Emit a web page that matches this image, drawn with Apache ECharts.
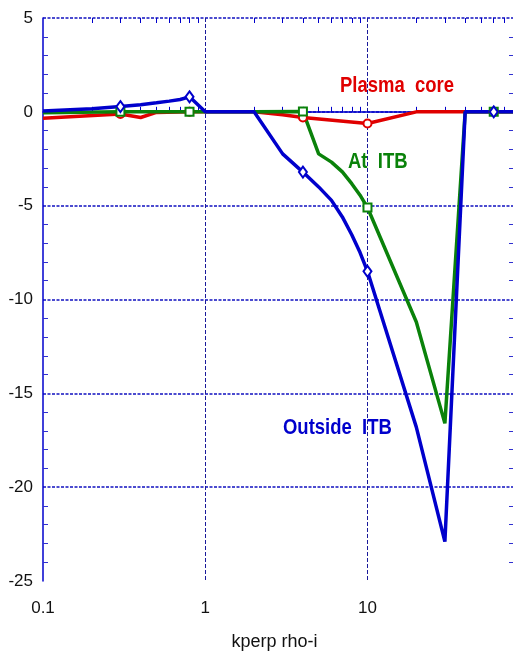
<!DOCTYPE html>
<html>
<head>
<meta charset="utf-8">
<script src="https://cdn.jsdelivr.net/npm/echarts@6/dist/echarts.min.js"></script>
<style>
  html, body { margin: 0; padding: 0; background: #fff; }
  #chart { width: 513px; height: 654px; }
</style>
</head>
<body>
<div id="chart"></div>
<script>
// kperp rho-i values and the three curves
const kCore = [0.1, 0.3, 0.4, 0.5, 0.8, 1, 2, 3, 4, 10, 20, 30, 40, 60, 80];
const plasmaCore = [-0.34, -0.12, -0.3, -0.03, 0, 0, 0, -0.15, -0.3, -0.62, 0, 0, 0, 0, 0];

const kItb = [0.1, 0.3, 0.8, 1, 2, 4, 5, 6, 7, 8, 9, 10, 20, 30, 40, 60, 80];
const atITB = [-0.05, 0, 0, 0, 0, 0.02, -2.24, -2.68, -3.2, -3.83, -4.44, -5.1, -11.2, -16.6, 0, 0, 0];

const kOut = [0.1, 0.2, 0.3, 0.4, 0.5, 0.6, 0.7, 0.8, 1, 2, 3, 4, 5, 6, 7, 8, 9, 10, 20, 30, 40, 60, 80];
const outsideITB = [0.05, 0.17, 0.28, 0.38, 0.48, 0.57, 0.66, 0.8, 0, 0, -2.24, -3.21, -4.0, -4.72, -5.6, -6.55, -7.5, -8.5, -16.8, -22.9, 0, 0, 0];

// points that carry a marker
const markerK = [0.3, 0.8, 4, 10, 60];
// minor ticks of the log axis
const minorK = [0.2, 0.3, 0.4, 0.5, 0.6, 0.7, 0.8, 0.9, 2, 3, 4, 5, 6, 7, 8, 9, 20, 30, 40, 50, 60, 70];

const fontMain = '"Liberation Sans", Arial, sans-serif';
const blueAxis = '#0000cc';

function pairs(xs, ys) {
    return xs.map((x, i) => [x, ys[i]]);
}

function curve(name, xs, ys, color, sym) {
    return {
        name: name,
        type: 'line',
        data: pairs(xs, ys),
        showAllSymbol: true,
        symbol: function (value) {
            return markerK.indexOf(value[0]) >= 0 ? sym : 'none';
        },
        symbolSize: sym === 'emptyDiamond' ? [8, 11] : 8,
        itemStyle: { color: color, borderWidth: 1 },
        lineStyle: { color: color, width: 3.5 },
        emphasis: { disabled: true },
        animation: false
    };
}

// narrow bold label drawn inside the plot
function label(text, x, y, color) {
    return {
        type: 'text', x: x, y: y, scaleX: 0.84, scaleY: 1,
        style: { text: text, fill: color, fontSize: 22, fontWeight: 'bold', fontFamily: fontMain, verticalAlign: 'middle' }
    };
}

const myChart = echarts.init(document.getElementById('chart'));

const option = {
    animation: false,
    grid: { left: 43, top: 18, width: 471, height: 563, outerBoundsMode: 'none', containLabel: false },
    xAxis: [
        {
            type: 'log',
            logBase: 10,
            min: 0.1,
            max: 80,
            position: 'bottom',
            axisLine: { show: true, lineStyle: { color: blueAxis, width: 1.5 } },
            axisTick: { show: false },
            axisLabel: {
                color: '#111',
                fontSize: 17,
                fontFamily: fontMain,
                margin: 19,
                formatter: function (v) {
                    const p = Math.log10(v);
                    if (Math.abs(p - Math.round(p)) > 1e-6) return '';
                    return String(+v.toPrecision(3));
                }
            },
            splitLine: {
                show: true,
                showMinLine: false,
                showMaxLine: false,
                lineStyle: { color: '#1a1a9a', width: 1, type: [4, 2] }
            },
            name: 'kperp rho-i',
            nameLocation: 'middle',
            nameGap: 52,
            nameTextStyle: { color: '#111', fontSize: 18, fontFamily: fontMain, padding: [0, 8, 0, 0] }
        },
        {
            type: 'log',
            logBase: 10,
            min: 0.1,
            max: 80,
            position: 'bottom',
            axisLine: { show: false },
            axisLabel: { show: false },
            splitLine: { show: false },
            axisTick: { show: true, inside: true, length: 5, customValues: minorK, lineStyle: { color: blueAxis } }
        },
        {
            type: 'log',
            logBase: 10,
            min: 0.1,
            max: 80,
            position: 'top',
            axisLine: { show: false },
            axisLabel: { show: false },
            splitLine: { show: false },
            axisTick: { show: true, inside: true, length: 5, customValues: minorK, lineStyle: { color: blueAxis } }
        }
    ],
    yAxis: [
        {
            type: 'value',
            min: -25,
            max: 5,
            interval: 5,
            position: 'left',
            axisLine: { show: true, lineStyle: { color: blueAxis, width: 1.5 } },
            axisTick: { show: false, inside: true },
            minorTick: { show: true, splitNumber: 5, length: 5, lineStyle: { color: '#3030d0' } },
            axisLabel: { color: '#111', fontSize: 17, fontFamily: fontMain, margin: 10 },
            splitLine: {
                show: true,
                showMinLine: false,
                lineStyle: { color: '#1010c0', width: 1.5, type: [3, 1.5] }
            }
        },
        {
            type: 'value',
            min: -25,
            max: 5,
            interval: 5,
            position: 'right',
            axisLine: { show: false },
            axisTick: { show: false, inside: true },
            minorTick: { show: true, splitNumber: 5, length: 5, lineStyle: { color: '#3030d0' } },
            axisLabel: { show: false },
            splitLine: { show: false }
        }
    ],
    series: [
        curve('Plasma core', kCore, plasmaCore, '#e00000', 'emptyCircle'),
        curve('At ITB', kItb, atITB, '#0a820a', 'emptyRect'),
        curve('Outside ITB', kOut, outsideITB, '#0000cc', 'emptyDiamond')
    ],
    graphic: [
        label('Plasma  core', 340, 86, '#e00000'),
        label('At  ITB', 348, 162, '#0a820a'),
        label('Outside  ITB', 283, 428, '#0000cc')
    ]
};

option && myChart.setOption(option);
window.addEventListener('resize', function () {
    myChart.resize();
});
</script>
</body>
</html>
